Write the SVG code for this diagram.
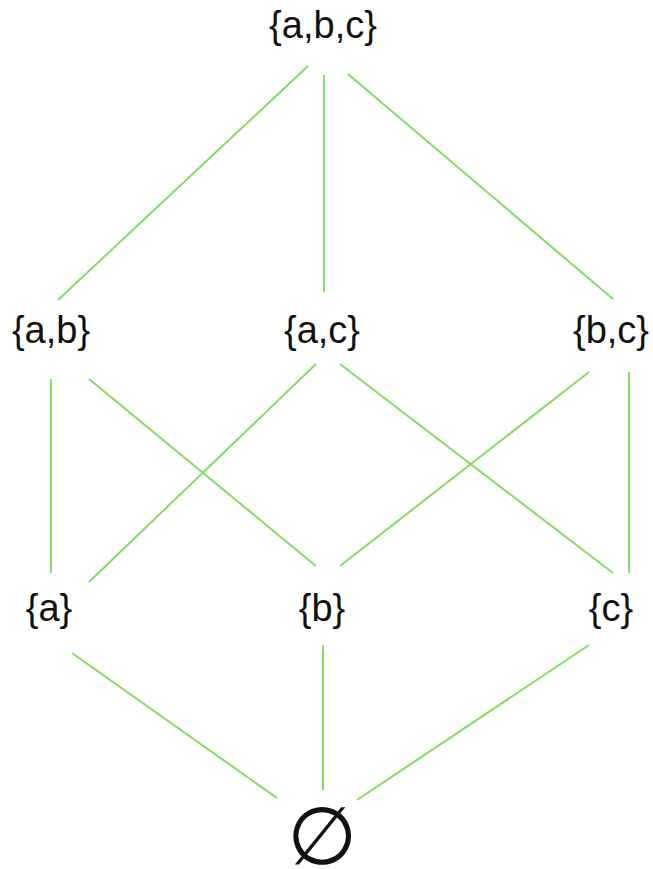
<svg xmlns="http://www.w3.org/2000/svg" width="653" height="869" viewBox="0 0 653 869">
<style>
.lbl{font-family:"Liberation Sans",Arial,sans-serif;font-size:38px;fill:#111;text-anchor:middle}
.e{stroke:#84dc62;stroke-width:2;fill:none}
</style>
<rect width="653" height="869" fill="#fff"/>
<g id="edges">
<line class="e" x1="308" y1="66" x2="58" y2="300"/>
<line class="e" x1="324" y1="75" x2="324" y2="292"/>
<line class="e" x1="348" y1="74" x2="613" y2="299"/>
<line class="e" x1="51" y1="379" x2="51" y2="573"/>
<line class="e" x1="89" y1="379" x2="316" y2="566"/>
<line class="e" x1="316" y1="364" x2="89" y2="582"/>
<line class="e" x1="340" y1="364" x2="613" y2="573"/>
<line class="e" x1="589" y1="372" x2="340" y2="566"/>
<line class="e" x1="629" y1="372" x2="629" y2="573"/>
<line class="e" x1="72" y1="653" x2="277" y2="798"/>
<line class="e" x1="323" y1="645" x2="323" y2="790"/>
<line class="e" x1="589" y1="645" x2="357" y2="800"/>
</g>
<g id="abc"><text class="lbl" x="323" y="38">{a,b,c}</text></g>
<g id="ab"><text class="lbl" x="51" y="343">{a,b}</text></g>
<g id="ac"><text class="lbl" x="322" y="343">{a,c}</text></g>
<g id="bc"><text class="lbl" x="611" y="343">{b,c}</text></g>
<g id="a"><text class="lbl" x="49" y="621">{a}</text></g>
<g id="b"><text class="lbl" x="322" y="621">{b}</text></g>
<g id="c"><text class="lbl" x="611" y="621">{c}</text></g>
<g id="empty"><text x="322" y="864" style="font-family:'DejaVu Sans',sans-serif;font-size:80px;fill:#111;text-anchor:middle">∅</text></g>
</svg>
